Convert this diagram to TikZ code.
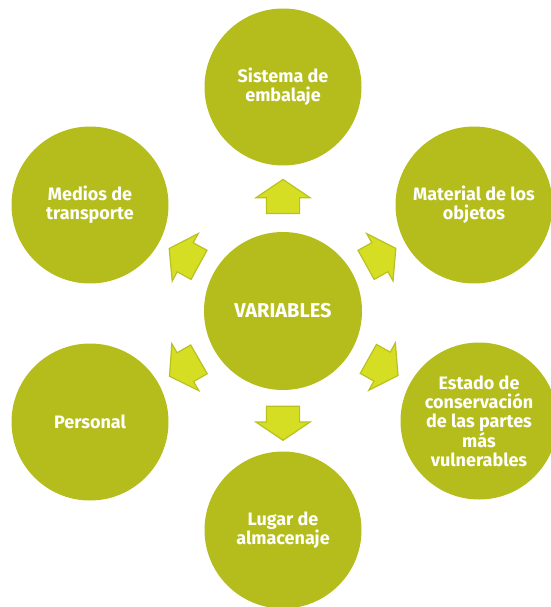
\documentclass[tikz,border=0pt]{standalone}
\usepackage{fontspec}
\setmainfont{Fira Sans}
\usetikzlibrary{positioning,shapes.arrows}

\definecolor{circfill}{HTML}{B5BD1C}
\definecolor{arrfill}{HTML}{D6DE24}
\definecolor{arrline}{HTML}{B9C11F}

\begin{document}
\begin{tikzpicture}[node distance=2cm, on grid,
  var/.style={circle, fill=circfill, minimum size=158pt, inner sep=0pt,
    text=white, font=\bfseries\fontsize{20}{22}\selectfont, align=center},
  topic/.style={circle, fill=circfill, minimum size=157pt, inner sep=0pt,
    text=white, font=\bfseries\fontsize{18}{19}\selectfont, align=center},
  blockarr/.style={single arrow, draw=arrline, fill=arrfill, line width=1.2pt,
    minimum height=34pt, single arrow head extend=10.5pt, single arrow tip angle=112,
    inner xsep=0pt, inner ysep=16pt, sloped, allow upside down}]
  \useasboundingbox (0,0) rectangle (550pt,-607pt);

  \node[var] (vars) at (283pt,-311pt) {VARIABLES};

  \node[topic] (sis) [above=224pt of vars] {Sistema de\\embalaje};
  \node[topic] (mat) [above right=106pt and 191pt of vars] {Material de los\\objetos};
  \node[topic] (est) [below right=110pt and 196pt of vars] {Estado de\\conservación\\de las partes\\más\\vulnerables};
  \node[topic] (lug) [below=219pt of vars] {Lugar de\\almacenaje};
  \node[topic] (per) [below left=111pt and 193pt of vars] {Personal};
  \node[topic] (med) [above left=106pt and 193pt of vars] {Medios de\\transporte};

  \path
  (vars) -- node[blockarr, pos=0.45] {} (sis)
  (vars) -- node[blockarr, pos=0.45] {} (mat)
  (vars) -- node[blockarr, pos=0.45] {} (est)
  (vars) -- node[blockarr, pos=0.45] {} (lug)
  (vars) -- node[blockarr, pos=0.45] {} (per)
  (vars) -- node[blockarr, pos=0.45] {} (med);
\end{tikzpicture}
\end{document}
